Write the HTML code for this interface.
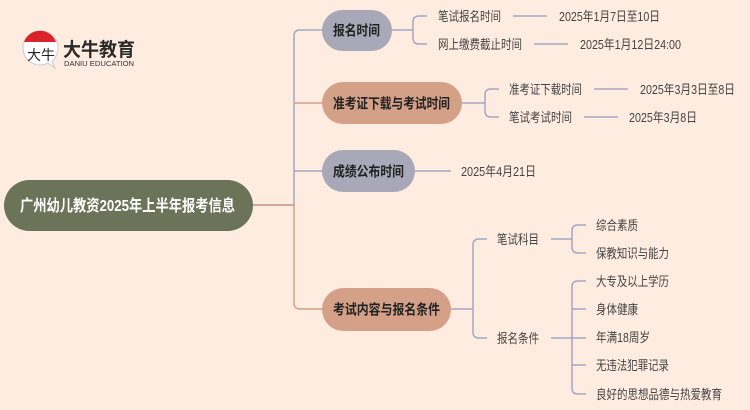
<!DOCTYPE html>
<html><head><meta charset="utf-8"><style>
html,body{margin:0;padding:0;background:#feece0;}
svg{display:block;}
text{font-family:"Liberation Sans","Noto Sans CJK SC",sans-serif;}
.l{font-size:13px;fill:#444;}
.b{font-size:14px;font-weight:bold;fill:#222;}
</style></head><body>
<svg width="750" height="410" viewBox="0 0 750 410" xmlns="http://www.w3.org/2000/svg">
<rect width="750" height="410" fill="#feece0"/>
<path d="M40 31a17 17 0 1 0 8 32l7 5-3-7a17 17 0 0 0-12-30z" fill="#fff" stroke="#ccc" stroke-width="1"/>
<path d="M24 42a17 17 0 0 1 32 0z" fill="#d8232a"/>
<text x="27" y="60" font-size="14" fill="#222" font-family="'Noto Serif CJK SC',serif">大牛</text>
<text x="63" y="56" font-size="19" font-weight="bold" fill="#2a2a2a" textLength="72" lengthAdjust="spacingAndGlyphs">大牛教育</text>
<text x="64" y="66" font-size="7" fill="#333" textLength="70" lengthAdjust="spacingAndGlyphs">DANIU EDUCATION</text>
<g fill="none" stroke-width="1.5">
<path d="M253 205H294V36q0-6 6-6H323" stroke="#a3a6c2"/>
<path d="M294 103H323" stroke="#d4a088"/>
<path d="M294 171H323" stroke="#a3a6c2"/>
<path d="M253 205H294V303q0 6 6 6H323" stroke="#d4a088"/>
<g stroke="#a3a6c2">
<path d="M392 30H413M427 16h-8q-6 0-6 6v16q0 6 6 6h8"/>
<path d="M513 16h34M534 44h34"/>
<path d="M462 103H485M499 89h-8q-6 0-6 6v16q0 6 6 6h8"/>
<path d="M594 89h34M584 117h34"/>
<path d="M415 171h36"/>
<path d="M451 309h22M487 239h-8q-6 0-6 6v87q0 6 6 6h8"/>
<path d="M551 239h21M586 225h-8q-6 0-6 6v16q0 6 6 6h8"/>
<path d="M551 338h35M586 281h-8q-6 0-6 6v101q0 6 6 6h8M572 309h14M572 365h14"/>
</g>
</g>
<rect x="4" y="180" width="249" height="51" rx="25.5" fill="#6b7359"/>
<text x="20" y="211" font-size="16" font-weight="bold" fill="#fff" textLength="215" lengthAdjust="spacingAndGlyphs">广州幼儿教资2025年上半年报考信息</text>
<rect x="322" y="10" width="70" height="41" rx="20.5" fill="#a9a8b8"/>
<text x="333" y="35.5" class="b" textLength="47" lengthAdjust="spacingAndGlyphs">报名时间</text>
<rect x="322" y="82" width="140" height="42" rx="21" fill="#d4a088"/>
<text x="333" y="108.5" class="b" textLength="117" lengthAdjust="spacingAndGlyphs">准考证下载与考试时间</text>
<rect x="322" y="150" width="93" height="42" rx="21" fill="#a9a8b8"/>
<text x="333" y="176.5" class="b" textLength="71" lengthAdjust="spacingAndGlyphs">成绩公布时间</text>
<rect x="322" y="288" width="129" height="43" rx="21.5" fill="#d4a088"/>
<text x="333" y="314.5" class="b" textLength="107" lengthAdjust="spacingAndGlyphs">考试内容与报名条件</text>
<text x="438" y="21" class="l" textLength="63" lengthAdjust="spacingAndGlyphs">笔试报名时间</text>
<text x="559" y="21" class="l" textLength="101" lengthAdjust="spacingAndGlyphs">2025年1月7日至10日</text>
<text x="438" y="49" class="l" textLength="84" lengthAdjust="spacingAndGlyphs">网上缴费截止时间</text>
<text x="580" y="49" class="l" textLength="101" lengthAdjust="spacingAndGlyphs">2025年1月12日24:00</text>
<text x="509" y="94" class="l" textLength="73" lengthAdjust="spacingAndGlyphs">准考证下载时间</text>
<text x="640" y="94" class="l" textLength="95" lengthAdjust="spacingAndGlyphs">2025年3月3日至8日</text>
<text x="509" y="122" class="l" textLength="63" lengthAdjust="spacingAndGlyphs">笔试考试时间</text>
<text x="629" y="122" class="l" textLength="68" lengthAdjust="spacingAndGlyphs">2025年3月8日</text>
<text x="461" y="176" class="l" textLength="75" lengthAdjust="spacingAndGlyphs">2025年4月21日</text>
<text x="497" y="244" class="l" textLength="42" lengthAdjust="spacingAndGlyphs">笔试科目</text>
<text x="497" y="343" class="l" textLength="42" lengthAdjust="spacingAndGlyphs">报名条件</text>
<text x="596" y="230" class="l" textLength="42" lengthAdjust="spacingAndGlyphs">综合素质</text>
<text x="596" y="258" class="l" textLength="73" lengthAdjust="spacingAndGlyphs">保教知识与能力</text>
<text x="596" y="286" class="l" textLength="73" lengthAdjust="spacingAndGlyphs">大专及以上学历</text>
<text x="596" y="314" class="l" textLength="42" lengthAdjust="spacingAndGlyphs">身体健康</text>
<text x="596" y="342" class="l" textLength="54" lengthAdjust="spacingAndGlyphs">年满18周岁</text>
<text x="596" y="370" class="l" textLength="73" lengthAdjust="spacingAndGlyphs">无违法犯罪记录</text>
<text x="596" y="399" class="l" textLength="126" lengthAdjust="spacingAndGlyphs">良好的思想品德与热爱教育</text>
</svg>
</body></html>
